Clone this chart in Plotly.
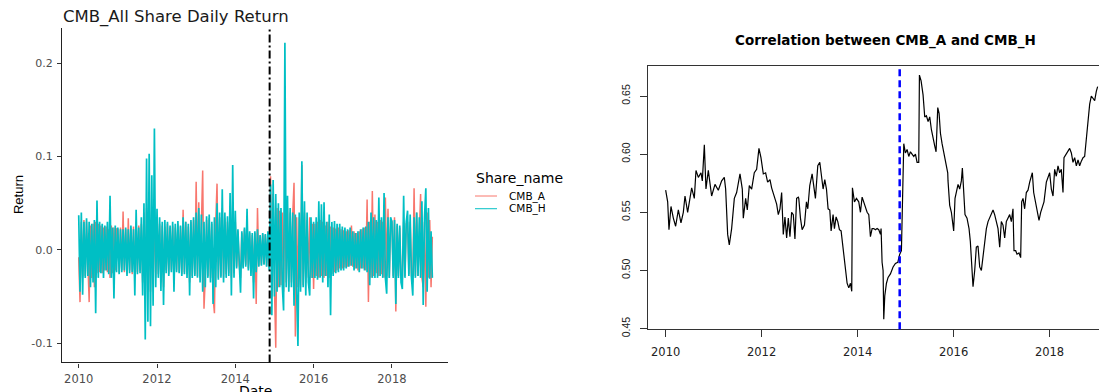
import plotly.graph_objects as go

W, H = 1107, 392
OFF = 8                      # page body margin of the html page
FW, FH = W - OFF, H - OFF    # figure size so that it fits the window

years = [2010, 2011, 2012, 2013, 2014, 2015, 2016, 2017, 2018, 2019]
SAMPLES_PER_YEAR = 30

h_2010 = [0.037, -0.045, 0.040, -0.048, 0.030, -0.030, 0.034, -0.028, 0.030, -0.040,
          0.028, -0.035, 0.032, -0.068, 0.053, -0.030, 0.030, -0.025, 0.028, -0.030,
          0.026, -0.022, 0.030, -0.026, 0.058, -0.030, 0.024, -0.052, 0.026, -0.024]
h_2011 = [0.024, -0.026, 0.022, -0.024, 0.022, -0.022, 0.024, -0.028, 0.022, -0.025,
          0.026, -0.024, 0.022, -0.049, 0.043, -0.026, 0.024, -0.025, 0.035, -0.049,
          0.050, -0.096, 0.098, -0.077, 0.103, -0.082, 0.080, -0.060, 0.130, -0.040]
h_2012 = [0.044, -0.030, 0.035, -0.044, 0.030, -0.059, 0.032, -0.025, 0.030, -0.028,
          0.026, -0.024, 0.030, -0.045, 0.028, -0.024, 0.031, -0.025, 0.026, -0.028,
          0.035, -0.026, 0.030, -0.030, 0.028, -0.049, 0.032, -0.030, 0.035, -0.028]
h_2013 = [0.040, -0.030, 0.045, -0.035, 0.038, -0.045, 0.030, -0.040, 0.036, -0.030,
          0.038, -0.035, 0.030, -0.058, 0.035, -0.040, 0.050, -0.032, 0.040, -0.030,
          0.065, -0.035, 0.040, -0.030, 0.036, -0.028, 0.061, -0.049, 0.091, -0.030]
h_2014 = [0.042, -0.020, 0.022, -0.018, -0.046, 0.020, -0.020, 0.024, -0.018, 0.044,
          -0.022, 0.020, -0.028, 0.018, -0.052, 0.020, -0.024, 0.022, -0.018, 0.016,
          -0.017, 0.018, -0.016, 0.017, -0.018, 0.020, -0.022, 0.070, -0.070, 0.075]
h_2015 = [-0.050, 0.060, -0.045, 0.050, -0.040, 0.045, -0.038, -0.065, 0.222, -0.040,
          0.058, -0.045, 0.045, -0.040, 0.040, -0.060, 0.038, -0.045, -0.103, 0.040,
          -0.045, 0.095, -0.040, 0.052, -0.049, 0.040, -0.035, -0.049, 0.035, -0.030]
h_2016 = [0.030, -0.030, 0.035, -0.032, 0.052, -0.030, 0.049, -0.035, 0.051, -0.028,
          0.030, -0.040, 0.038, -0.070, 0.030, -0.028, 0.031, -0.025, 0.028, -0.024,
          0.028, -0.022, 0.025, -0.022, 0.024, -0.020, 0.022, -0.018, 0.024, -0.017]
h_2017 = [0.020, -0.022, 0.018, -0.020, 0.020, -0.024, 0.022, -0.020, 0.024, -0.022,
          0.025, -0.024, 0.030, -0.038, 0.040, -0.030, 0.035, -0.030, 0.032, -0.030,
          0.056, -0.028, 0.035, -0.030, 0.061, -0.030, -0.047, 0.035, -0.030, 0.035]
h_2018 = [0.030, -0.030, 0.032, -0.058, 0.028, -0.030, 0.026, -0.035, -0.042, 0.058,
          -0.030, 0.030, 0.042, -0.028, 0.038, -0.030, -0.049, 0.035, -0.030, 0.040,
          -0.028, 0.035, -0.030, 0.052, -0.059, 0.035, 0.066, -0.045, 0.045, -0.031]
h_2019 = [0.020, -0.030]

a_2010 = [-0.008, -0.056, 0.030, -0.030, 0.032, -0.028, 0.030, -0.030, -0.056, 0.026,
          -0.030, 0.028, -0.040, 0.030, -0.025, 0.028, -0.024, 0.026, -0.025, 0.024,
          -0.022, 0.025, -0.024, 0.022, -0.030, 0.026, -0.025, 0.024, -0.022, 0.023]
a_2011 = [0.022, -0.025, 0.024, -0.022, 0.041, -0.024, 0.022, -0.026, 0.034, -0.022,
          0.024, -0.026, 0.025, -0.030, 0.030, -0.024, 0.026, -0.022, 0.028, -0.035,
          0.040, -0.050, 0.045, -0.040, 0.050, -0.045, 0.040, -0.035, 0.042, -0.030]
a_2012 = [0.030, -0.026, 0.028, -0.035, 0.026, -0.040, 0.025, -0.022, 0.028, -0.026,
          0.024, -0.022, 0.026, -0.030, 0.024, -0.022, 0.028, -0.024, 0.025, -0.026,
          0.043, -0.024, 0.030, -0.026, 0.025, -0.035, 0.030, -0.028, 0.032, -0.026]
a_2013 = [0.073, -0.028, 0.051, -0.030, 0.035, 0.085, -0.063, -0.030, 0.032, -0.028,
          0.034, -0.030, 0.028, -0.052, -0.068, 0.030, 0.071, -0.030, 0.035, -0.028,
          0.045, -0.030, 0.034, -0.026, 0.030, -0.025, 0.040, -0.030, 0.042, -0.025]
a_2014 = [0.030, -0.018, 0.020, -0.017, -0.030, 0.018, -0.018, 0.022, -0.016, 0.030,
          -0.020, 0.018, -0.024, 0.016, -0.035, 0.018, -0.058, 0.045, -0.017, 0.015,
          -0.016, 0.017, -0.015, 0.016, -0.017, 0.018, -0.020, 0.079, -0.050, 0.060]
a_2015 = [-0.040, -0.105, 0.045, -0.040, 0.042, -0.038, 0.040, -0.045, 0.060, -0.035,
          0.045, -0.040, 0.040, -0.035, 0.038, 0.072, -0.093, 0.035, -0.040, 0.035,
          -0.040, 0.091, -0.038, 0.040, -0.035, 0.032, -0.030, 0.035, -0.030, 0.028]
a_2016 = [-0.042, 0.028, -0.028, 0.030, -0.030, 0.032, -0.028, 0.030, -0.030, 0.026,
          -0.028, 0.030, -0.030, 0.025, -0.026, 0.024, -0.024, 0.023, -0.022, 0.024,
          -0.020, 0.022, -0.020, 0.021, -0.019, 0.020, -0.018, 0.021, -0.017, 0.026]
a_2017 = [-0.018, 0.020, -0.020, 0.018, -0.022, 0.020, -0.020, 0.022, -0.020, 0.024,
          -0.022, 0.054, -0.056, 0.030, -0.030, 0.063, -0.028, 0.038, -0.025, 0.030,
          -0.028, 0.032, -0.026, 0.030, -0.030, 0.056, -0.028, 0.044, -0.030, 0.032]
a_2018 = [0.031, -0.028, 0.035, -0.066, 0.026, -0.028, 0.024, -0.030, -0.032, 0.030,
          -0.028, 0.028, 0.030, -0.026, 0.030, -0.028, -0.035, 0.066, -0.028, 0.040,
          -0.028, 0.030, 0.060, -0.030, -0.040, 0.030, -0.061, 0.040, -0.030, 0.032]
a_2019 = [-0.040, 0.014]

event_date = 2014.877  # Shanghai-Hong Kong Stock Connect

# ---------------- data: rolling correlation ----------------
corr_year_1 = [2010.000, 2010.042, 2010.069, 2010.111, 2010.160, 2010.208, 2010.264, 2010.319, 2010.368, 2010.403,
               2010.458, 2010.507, 2010.542, 2010.597, 2010.632, 2010.681, 2010.736, 2010.764, 2010.806, 2010.840,
               2010.889, 2010.958, 2011.028, 2011.097, 2011.167, 2011.222, 2011.250, 2011.292, 2011.326, 2011.375,
               2011.431, 2011.479, 2011.549, 2011.597, 2011.618, 2011.667, 2011.701, 2011.743, 2011.792, 2011.847,
               2011.896, 2011.944, 2011.986, 2012.035, 2012.083, 2012.125, 2012.174, 2012.208, 2012.264, 2012.313,
               2012.347, 2012.382, 2012.417, 2012.451, 2012.486, 2012.521, 2012.556, 2012.590, 2012.625, 2012.660,
               2012.694, 2012.729, 2012.764]
corr_value_1 = [0.569, 0.559, 0.535, 0.555, 0.545, 0.538, 0.552, 0.541, 0.550, 0.564,
                0.550, 0.562, 0.571, 0.562, 0.586, 0.580, 0.584, 0.577, 0.608, 0.570,
                0.586, 0.564, 0.574, 0.569, 0.577, 0.580, 0.570, 0.531, 0.522, 0.536,
                0.562, 0.567, 0.583, 0.570, 0.545, 0.562, 0.552, 0.573, 0.570, 0.584,
                0.587, 0.605, 0.597, 0.583, 0.584, 0.576, 0.578, 0.571, 0.563, 0.557,
                0.548, 0.553, 0.567, 0.531, 0.546, 0.528, 0.545, 0.529, 0.550, 0.548,
                0.527, 0.562, 0.563]
corr_year_2 = [2012.774, 2012.809, 2012.844, 2012.892, 2012.934, 2012.962, 2013.003, 2013.052, 2013.087, 2013.121,
               2013.170, 2013.212, 2013.239, 2013.281, 2013.316, 2013.351, 2013.385, 2013.420, 2013.448, 2013.489,
               2013.517, 2013.552, 2013.587, 2013.621, 2013.656, 2013.698, 2013.726, 2013.746, 2013.781, 2013.816,
               2013.851, 2013.878, 2013.892, 2013.934, 2013.976, 2014.024, 2014.059, 2014.094, 2014.128, 2014.163,
               2014.198, 2014.233, 2014.267, 2014.302, 2014.337, 2014.371, 2014.406, 2014.441, 2014.476, 2014.489,
               2014.510, 2014.531, 2014.545, 2014.566, 2014.601, 2014.635, 2014.684, 2014.739, 2014.788, 2014.837,
               2014.878, 2014.913, 2014.941, 2014.962, 2014.996, 2015.031, 2015.066, 2015.101, 2015.135, 2015.170,
               2015.205, 2015.239, 2015.274, 2015.288, 2015.323, 2015.364, 2015.399, 2015.434, 2015.469, 2015.503,
               2015.538, 2015.573, 2015.608, 2015.635, 2015.670, 2015.698, 2015.726, 2015.760, 2015.795, 2015.830,
               2015.878]
corr_value_2 = [0.562, 0.545, 0.535, 0.539, 0.559, 0.553, 0.573, 0.583, 0.570, 0.562,
                0.590, 0.593, 0.584, 0.570, 0.578, 0.570, 0.553, 0.552, 0.534, 0.548,
                0.536, 0.546, 0.542, 0.535, 0.534, 0.520, 0.507, 0.503, 0.489, 0.485,
                0.489, 0.482, 0.571, 0.559, 0.562, 0.559, 0.550, 0.563, 0.559, 0.555,
                0.550, 0.548, 0.529, 0.536, 0.536, 0.535, 0.536, 0.535, 0.531, 0.536,
                0.507, 0.500, 0.458, 0.478, 0.489, 0.494, 0.497, 0.503, 0.506, 0.507,
                0.514, 0.517, 0.562, 0.609, 0.601, 0.604, 0.598, 0.602, 0.600, 0.598,
                0.600, 0.593, 0.593, 0.668, 0.663, 0.651, 0.632, 0.633, 0.628, 0.632,
                0.621, 0.612, 0.607, 0.602, 0.640, 0.635, 0.618, 0.609, 0.601, 0.595,
                0.584]
corr_year_3 = [2015.884, 2015.919, 2015.954, 2015.974, 2016.002, 2016.030, 2016.058, 2016.093, 2016.127, 2016.162,
               2016.183, 2016.211, 2016.238, 2016.280, 2016.322, 2016.349, 2016.377, 2016.405, 2016.440, 2016.474,
               2016.509, 2016.544, 2016.579, 2016.613, 2016.648, 2016.683, 2016.718, 2016.752, 2016.787, 2016.822,
               2016.856, 2016.891, 2016.926, 2016.961, 2016.995, 2017.030, 2017.065, 2017.099, 2017.134, 2017.169,
               2017.204, 2017.238, 2017.259, 2017.294, 2017.322, 2017.363, 2017.398, 2017.419, 2017.447, 2017.481,
               2017.516, 2017.551, 2017.586, 2017.620, 2017.641, 2017.669, 2017.711, 2017.745, 2017.780, 2017.815,
               2017.849, 2017.884, 2017.933, 2017.968, 2018.002, 2018.037, 2018.072, 2018.106, 2018.141, 2018.176,
               2018.210, 2018.245, 2018.280, 2018.301, 2018.349, 2018.384, 2018.419, 2018.454, 2018.488, 2018.523,
               2018.558, 2018.593, 2018.627, 2018.662, 2018.697, 2018.731, 2018.752, 2018.780, 2018.808, 2018.836,
               2018.870, 2018.905, 2018.940, 2018.974, 2019.002]
corr_value_3 = [0.577, 0.556, 0.550, 0.542, 0.534, 0.562, 0.567, 0.574, 0.570, 0.577,
                0.588, 0.562, 0.548, 0.545, 0.536, 0.525, 0.503, 0.486, 0.500, 0.520,
                0.521, 0.503, 0.500, 0.511, 0.522, 0.536, 0.542, 0.545, 0.548, 0.552,
                0.548, 0.543, 0.536, 0.520, 0.542, 0.539, 0.528, 0.542, 0.545, 0.548,
                0.542, 0.553, 0.517, 0.517, 0.514, 0.515, 0.511, 0.559, 0.562, 0.553,
                0.567, 0.569, 0.576, 0.581, 0.584, 0.567, 0.559, 0.550, 0.543, 0.550,
                0.555, 0.559, 0.576, 0.581, 0.584, 0.570, 0.564, 0.587, 0.581, 0.590,
                0.584, 0.587, 0.567, 0.597, 0.600, 0.602, 0.605, 0.601, 0.593, 0.597,
                0.590, 0.595, 0.590, 0.594, 0.597, 0.598, 0.608, 0.621, 0.632, 0.643,
                0.650, 0.648, 0.646, 0.654, 0.658]

tick_years = [2010, 2012, 2014, 2016, 2018]
ret_ticks = [-0.1, 0.0, 0.1, 0.2]
ret_ticktext = ["-0.1", "0.0", "0.1", "0.2"]
corr_ticks = [0.45, 0.50, 0.55, 0.60, 0.65]
corr_ticktext = ["0.45", "0.50", "0.55", "0.60", "0.65"]

# ---------------- build ----------------
h_lists = [h_2010, h_2011, h_2012, h_2013, h_2014, h_2015, h_2016, h_2017, h_2018, h_2019]
a_lists = [a_2010, a_2011, a_2012, a_2013, a_2014, a_2015, a_2016, a_2017, a_2018, a_2019]


def expand(lists):
    xs, ys = [], []
    for yr, vals in zip(years, lists):
        for i, v in enumerate(vals):
            xs.append(yr + i / SAMPLES_PER_YEAR)
            ys.append(v)
    return xs, ys


ax, ay = expand(a_lists)
hx, hy = expand(h_lists)
corr_year = corr_year_1 + corr_year_2 + corr_year_3
corr_value = corr_value_1 + corr_value_2 + corr_value_3


def fx(px):
    return (px - OFF) / FW


def fy(py):
    return 1 - (py - OFF) / FH


COL_A = "#F8766D"
COL_H = "#00BFC4"
FONT = "DejaVu Sans"

fig = go.Figure()
fig.add_trace(go.Scatter(x=ax, y=ay, mode="lines", line=dict(color=COL_A, width=1.5),
                         name="CMB_A", xaxis="x", yaxis="y", showlegend=False))
fig.add_trace(go.Scatter(x=hx, y=hy, mode="lines", line=dict(color=COL_H, width=1.7),
                         name="CMB_H", xaxis="x", yaxis="y", showlegend=False))
fig.add_trace(go.Scatter(x=corr_year, y=corr_value, mode="lines", line=dict(color="black", width=1.2),
                         xaxis="x2", yaxis="y2", showlegend=False))

fig.update_layout(
    width=FW, height=FH,
    margin=dict(l=0, r=0, t=0, b=0),
    paper_bgcolor="white", plot_bgcolor="white",
    xaxis=dict(domain=[fx(62), fx(448)], range=[2009.573, 2019.433], anchor="y",
               tickvals=tick_years, showgrid=False, zeroline=False,
               showline=True, linecolor="#222", linewidth=1.2,
               ticks="outside", ticklen=4, tickcolor="#333",
               tickfont=dict(family=FONT, size=11.5, color="#4d4d4d"), ticklabelstandoff=2),
    yaxis=dict(domain=[fy(370), fy(28.3)], range=[-0.1207, 0.238], anchor="x",
               tickvals=ret_ticks, ticktext=ret_ticktext, showgrid=False, zeroline=False,
               showline=True, linecolor="#222", linewidth=1.2,
               ticks="outside", ticklen=4, tickcolor="#333",
               tickfont=dict(family=FONT, size=11, color="#4d4d4d"), ticklabelstandoff=2),
    xaxis2=dict(domain=[fx(648), 1.0], range=[2009.632, 2019.197], anchor="y2",
                tickvals=tick_years, showgrid=False, zeroline=False,
                showline=True, mirror=True, linecolor="#333", linewidth=1,
                ticks="outside", ticklen=7, tickcolor="#333",
                tickfont=dict(family=FONT, size=11.5, color="#222"), ticklabelstandoff=5),
    yaxis2=dict(domain=[fy(336), fy(67)], range=[0.4495, 0.676], anchor="x2",
                tickvals=corr_ticks, ticktext=corr_ticktext, showgrid=False, zeroline=False,
                showline=True, linecolor="#333", linewidth=1,
                ticks="outside", ticklen=7, tickcolor="#333", tickangle=-90,
                tickfont=dict(family="Liberation Sans", size=10.5, color="#222"), ticklabelstandoff=6),
)

# event lines
fig.add_shape(type="line", xref="x", yref="y domain", x0=event_date, x1=event_date, y0=0, y1=1,
              line=dict(color="black", width=2, dash="8px,3px,2px,3px"))
fig.add_shape(type="line", xref="x2", yref="y2 domain", x0=event_date, x1=event_date, y0=0, y1=0.989,
              line=dict(color="#0000FF", width=2.5, dash="7px,4px"))

# legend (drawn by hand, ggplot style)
fig.add_shape(type="line", xref="paper", yref="paper", x0=fx(475), x1=fx(497), y0=fy(200), y1=fy(200),
              line=dict(color=COL_A, width=1))
fig.add_shape(type="line", xref="paper", yref="paper", x0=fx(475), x1=fx(497), y0=fy(213), y1=fy(213),
              line=dict(color=COL_H, width=1))

annotations = [
    dict(text="CMB_All Share Daily Return", x=fx(61), y=fy(17.5), xanchor="left", yanchor="middle",
         font=dict(family=FONT, size=16.5, color="#1a1a1a")),
    dict(text="Return", x=fx(18), y=fy(199), xanchor="center", yanchor="middle", textangle=-90,
         font=dict(family="Liberation Sans", size=13, color="black")),
    dict(text="Date", x=fx(255), y=fy(389), xanchor="center", yanchor="top",
         font=dict(family=FONT, size=14, color="black")),
    dict(text="Share_name", x=fx(474), y=fy(182), xanchor="left", yanchor="middle",
         font=dict(family=FONT, size=14, color="black")),
    dict(text="CMB_A", x=fx(507), y=fy(200), xanchor="left", yanchor="middle",
         font=dict(family=FONT, size=10.5, color="black")),
    dict(text="CMB_H", x=fx(507), y=fy(213), xanchor="left", yanchor="middle",
         font=dict(family=FONT, size=10.5, color="black")),
    dict(text="<b>Correlation between CMB_A and CMB_H</b>", x=fx(885), y=fy(41), xanchor="center",
         yanchor="middle", font=dict(family=FONT, size=13.5, color="black")),
]
for a in annotations:
    a.update(xref="paper", yref="paper", showarrow=False)
fig.update_layout(annotations=annotations)

fig.write_html("out.html", config={"displayModeBar": False})
